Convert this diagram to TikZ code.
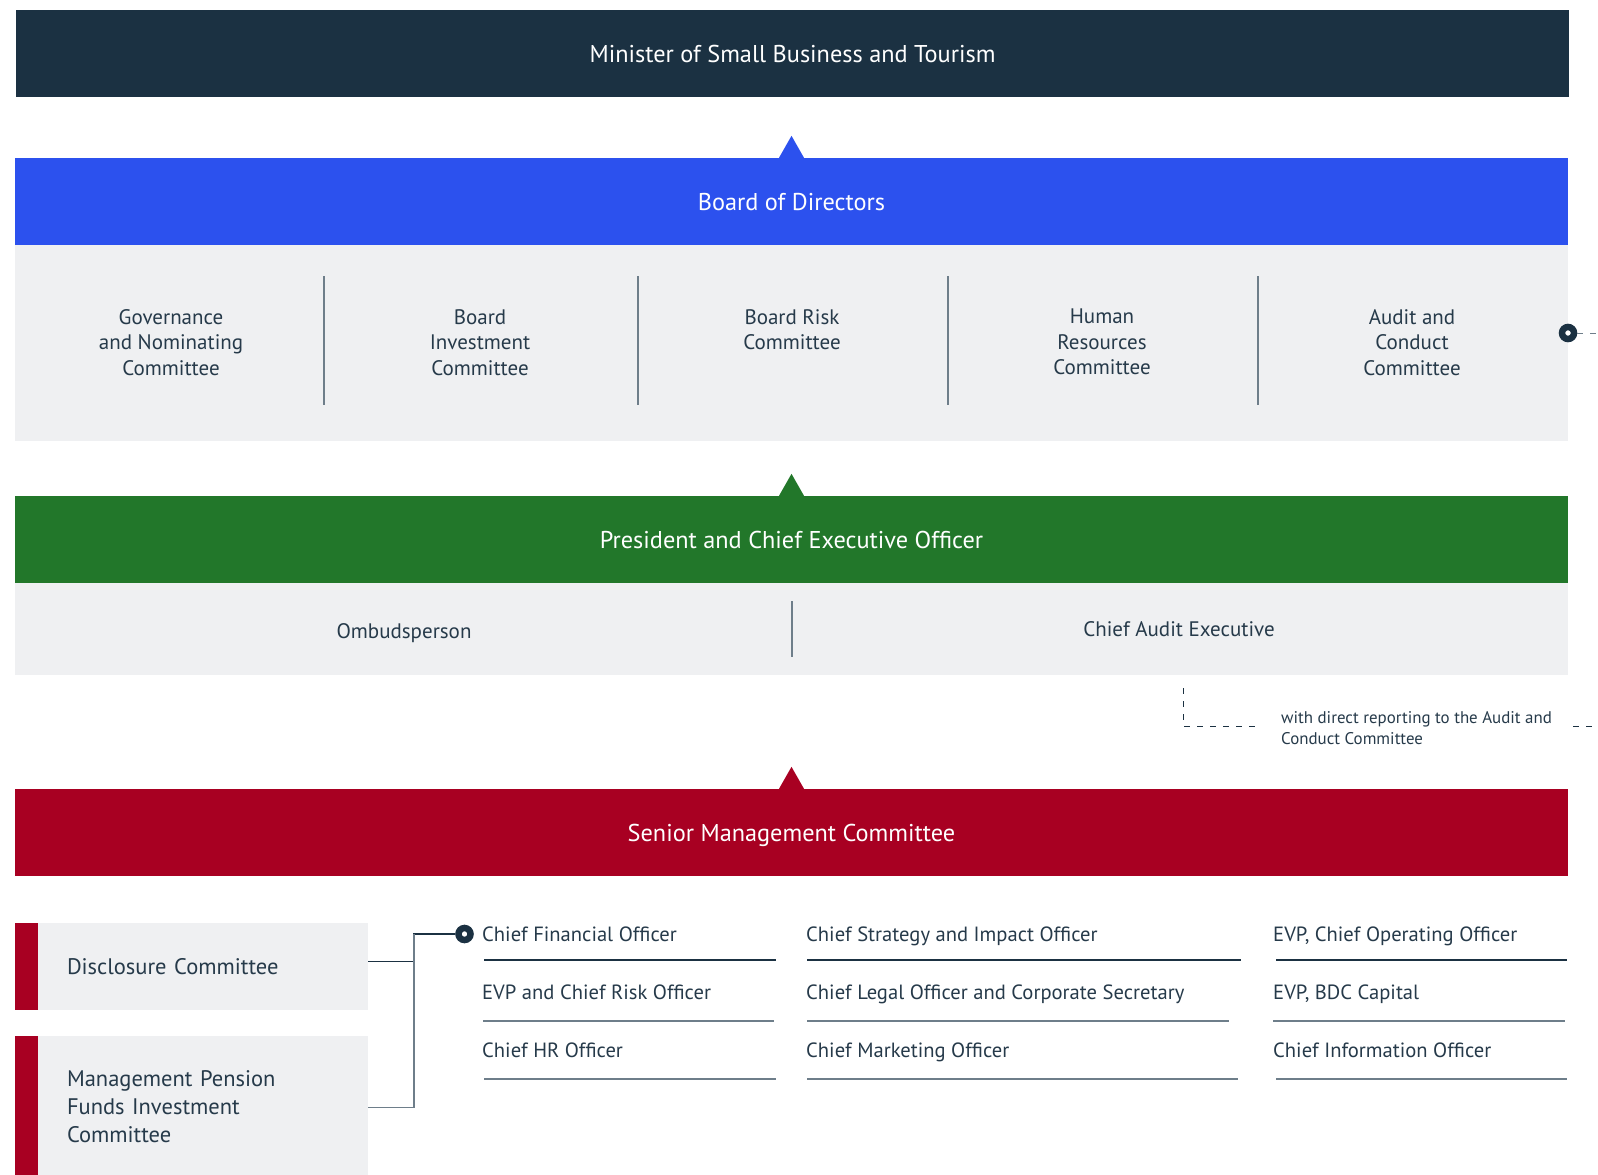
\documentclass[tikz,border=0pt]{standalone}
\usepackage{fontspec}
\setmainfont{PT Sans}
\usetikzlibrary{positioning}

\definecolor{navy}{HTML}{1B3142}
\definecolor{boardblue}{HTML}{2C51EE}
\definecolor{ceogreen}{HTML}{22772A}
\definecolor{smcred}{HTML}{A80022}
\definecolor{panelgray}{HTML}{EFF0F2}
\definecolor{inktext}{HTML}{263A4A}
\definecolor{rulegray}{HTML}{6E7E8A}

\tikzset{
  bar/.style={rectangle, inner sep=0pt, minimum width=1553pt, minimum height=87pt,
    text depth=0pt, text=white, font=\fontsize{24.3}{28}\selectfont},
  panel/.style={rectangle, inner sep=0pt, fill=panelgray, minimum width=1553pt},
  cmte/.style={anchor=north, align=center, text=inktext, inner sep=0pt,
    font=\fontsize{21}{25.5}\selectfont},
  officer/.style={anchor=base west, text=inktext, inner sep=0pt,
    font=\fontsize{20.6}{24}\selectfont},
  staffer/.style={anchor=base, text=inktext, inner sep=0pt,
    font=\fontsize{21}{24}\selectfont},
  sidebox/.style={rectangle, fill=panelgray, minimum width=330pt, text width=272pt,
    inner xsep=29pt, inner ysep=0pt, align=left, text=inktext,
    font=\fontsize{22.5}{28}\selectfont},
  divider/.style={draw=rulegray, line width=1.2pt},
  ruling/.style={line width=1.5pt},
  link/.style={draw=navy, line width=1.2pt},
  report/.style={draw=navy, dash pattern=on 6pt off 7pt, line width=1pt},
  pin/.style={circle, draw=navy, fill=white, line width=6.5pt, minimum size=12pt, inner sep=0pt},
}

\begin{document}
\begin{tikzpicture}[x=1pt, y=-1pt]
  \useasboundingbox (0,0) rectangle (1598,1175);

  % Minister
  \draw (792.5,53.5) node[bar, fill=navy](minister){Minister of Small Business and Tourism};

  % Board and its committees
  \draw (791.5,201.5) node[bar, fill=boardblue](board){Board of Directors};
  \fill[boardblue] ([xshift=-12.5pt]board.north) -- ([yshift=22pt]board.north) -- ([xshift=12.5pt]board.north) -- cycle;
  \draw (791.5,343) node[panel, minimum height=196pt](cmtes){};
  \draw (171,309) node[cmte](governance){Governance\\and Nominating\\Committee};
  \draw (480,309) node[cmte](investment){Board\\Investment\\Committee};
  \draw (792,309) node[cmte](risk){Board Risk\\Committee};
  \draw (1102,309) node[cmte](hr){Human\\Resources\\Committee};
  \draw (1412,309) node[cmte](audit){Audit and\\Conduct\\Committee};
  \foreach \x in {324,638,948,1258}
    \draw[divider] (\x,276) -- (\x,405);

  % reporting line of the chief audit executive
  \draw (1568,333) node[pin](audit pin){};
  \coordinate (audit out) at (1598,333);
  \draw[report, draw=rulegray] (audit pin) -- (audit out);

  % President and CEO
  \draw (791.5,539.5) node[bar, fill=ceogreen](ceo){President and Chief Executive Officer};
  \fill[ceogreen] ([xshift=-12.5pt]ceo.north) -- ([yshift=22pt]ceo.north) -- ([xshift=12.5pt]ceo.north) -- cycle;
  \draw (791.5,629) node[panel, minimum height=92pt](staff){};
  \draw (404,638) node[staffer](ombuds){Ombudsperson};
  \draw (1179,636) node[staffer](cae){Chief Audit Executive};
  \draw[divider] (792,601) -- (792,657);

  \coordinate (cae drop) at (1183,688);
  \coordinate (cae bend) at (1183,726);
  \coordinate (cae note end) at (1257,726);
  \draw[report] (cae drop) -- (cae bend) -- (cae note end);
  \draw (1281,711) node[anchor=north west, inner sep=0pt, align=left, text=inktext,
    font=\fontsize{16.9}{21.5}\selectfont](note){with direct reporting to the Audit and\\Conduct Committee};
  \coordinate (note east) at (1573,726);
  \coordinate (note out) at (1598,726);
  \draw[report] (note east) -- (note out);

  % Senior Management Committee
  \draw (791.5,832.5) node[bar, fill=smcred](smc){Senior Management Committee};
  \fill[smcred] ([xshift=-12.5pt]smc.north) -- ([yshift=22pt]smc.north) -- ([xshift=12.5pt]smc.north) -- cycle;

  % management committees
  \draw (203,966.5) node[sidebox, minimum height=87pt](disclosure){Disclosure Committee};
  \fill[smcred] ([xshift=-23pt]disclosure.south west) rectangle (disclosure.north west);
  \draw (203,1106.5) node[sidebox, minimum height=141pt](pension){Management Pension\\Funds Investment\\Committee};
  \fill[smcred] ([xshift=-23pt]pension.south west) rectangle (pension.north west);

  \coordinate (spine) at (414,934);
  \draw (464.5,934) node[pin](cfo pin){};
  \draw[link] ([yshift=5pt]disclosure.east) -| (spine) -- (cfo pin);
  \draw[link, draw=rulegray] ([yshift=-1pt]pension.east) -| (spine);

  % officers
  \foreach \name/\x/\y/\txt in {
      cfo/482/941/{Chief Financial Officer},
      cro/482/999/{EVP and Chief Risk Officer},
      chro/482/1057/{Chief HR Officer},
      csio/806/941/{Chief Strategy and Impact Officer},
      clo/806/999/{Chief Legal Officer and Corporate Secretary},
      cmo/806/1057/{Chief Marketing Officer},
      coo/1273/941/{EVP, Chief Operating Officer},
      capital/1273/999/{EVP, BDC Capital},
      cio/1273/1057/{Chief Information Officer}}
    \draw (\x,\y) node[officer](\name){\txt};
  \foreach \xa/\xb/\y/\col in {
      484/776/960/navy, 483/774/1021/rulegray, 484/776/1079/rulegray,
      807/1241/960/navy, 807/1229/1021/rulegray, 807/1238/1079/rulegray,
      1276/1567/960/navy, 1273/1565/1021/rulegray, 1276/1567/1079/rulegray}
    \draw[ruling, draw=\col] (\xa,\y) -- (\xb,\y);
\end{tikzpicture}
\end{document}
